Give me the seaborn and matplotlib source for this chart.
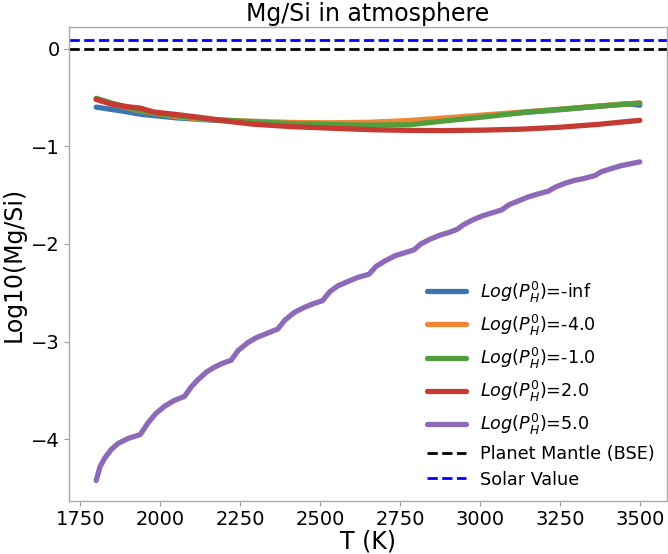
import matplotlib
matplotlib.use("Agg")
import matplotlib.pyplot as plt
import seaborn as sns
import pandas as pd

# ---- data ----
T_ninf = [1800, 1872, 1944, 2052, 2172, 2293, 2413, 2533, 2653, 2773, 2893, 3013, 3134, 3254, 3374, 3460, 3500]
y_ninf = [-0.60, -0.635, -0.675, -0.71, -0.735, -0.755, -0.77, -0.775, -0.77, -0.755, -0.725, -0.69, -0.655, -0.625, -0.59, -0.565, -0.58]

T_m4 = [1800, 1850, 1932, 2052, 2172, 2293, 2413, 2533, 2653, 2773, 2893, 3013, 3134, 3254, 3374, 3500]
y_m4 = [-0.52, -0.565, -0.635, -0.70, -0.73, -0.745, -0.757, -0.76, -0.755, -0.738, -0.71, -0.68, -0.65, -0.62, -0.588, -0.557]

T_m1 = [1800, 1850, 1932, 1990, 2052, 2172, 2293, 2413, 2533, 2653, 2780, 2893, 3013, 3134, 3254, 3374, 3500]
y_m1 = [-0.51, -0.56, -0.63, -0.665, -0.69, -0.728, -0.75, -0.77, -0.778, -0.784, -0.78, -0.74, -0.70, -0.655, -0.622, -0.59, -0.56]

T_p2 = [1800, 1848, 1896, 1938, 1980, 2052, 2112, 2172, 2233, 2293, 2413, 2533, 2653, 2773, 2893, 3013, 3134, 3254, 3374, 3500]
y_p2 = [-0.52, -0.57, -0.595, -0.61, -0.65, -0.676, -0.70, -0.726, -0.753, -0.775, -0.80, -0.815, -0.83, -0.838, -0.84, -0.835, -0.825, -0.805, -0.775, -0.735]

T_p5 = [1800, 1812, 1827, 1848, 1869, 1900, 1938,
        1960, 1985, 2014, 2045, 2076,
        2098, 2118, 2145, 2170, 2196, 2222,
        2244, 2274, 2300, 2330, 2368,
        2390, 2420, 2450, 2480, 2508,
        2530, 2555, 2590, 2620, 2653,
        2675, 2705, 2735, 2765, 2794,
        2815, 2845, 2875, 2905, 2929,
        2950, 2980, 3010, 3040, 3069,
        3090, 3120, 3150, 3180, 3214,
        3235, 3265, 3295, 3325, 3360,
        3380, 3410, 3440, 3470, 3500]
y_p5 = [-4.42, -4.28, -4.19, -4.10, -4.04, -3.99, -3.95,
        -3.84, -3.74, -3.66, -3.60, -3.56,
        -3.46, -3.39, -3.31, -3.26, -3.22, -3.19,
        -3.09, -3.01, -2.96, -2.92, -2.87,
        -2.78, -2.70, -2.65, -2.61, -2.58,
        -2.49, -2.43, -2.38, -2.34, -2.31,
        -2.23, -2.17, -2.12, -2.09, -2.06,
        -2.00, -1.95, -1.91, -1.88, -1.85,
        -1.80, -1.75, -1.71, -1.68, -1.65,
        -1.60, -1.56, -1.52, -1.49, -1.46,
        -1.42, -1.38, -1.35, -1.33, -1.30,
        -1.26, -1.23, -1.20, -1.18, -1.16]

labels = [r"$Log(P_H^0)$=-inf", r"$Log(P_H^0)$=-4.0", r"$Log(P_H^0)$=-1.0",
          r"$Log(P_H^0)$=2.0", r"$Log(P_H^0)$=5.0"]
colors = ["#3b75af", "#ef8636", "#519e3e", "#c53a32", "#8d69b8"]
bse_value = 0.0
solar_value = 0.09

sns.set_theme(style="white")
plt.rcParams["font.family"] = ["DejaVu Sans"]
plt.rcParams["text.color"] = "black"
plt.rcParams["axes.labelcolor"] = "black"

fig = plt.figure(figsize=(6.68, 5.54), dpi=100)
ax = fig.add_axes([69 / 668, 1 - 501 / 554, (667 - 69) / 668, (501 - 27) / 554])

series = [(T_ninf, y_ninf), (T_m4, y_m4), (T_m1, y_m1), (T_p2, y_p2), (T_p5, y_p5)]
for (T, y), lab, c in zip(series, labels, colors):
    df = pd.DataFrame({"T": T, "y": y})
    sns.lineplot(data=df, x="T", y="y", ax=ax, color=c, lw=3.8, label=lab)

ax.axhline(bse_value, color="black", ls="--", lw=2, label="Planet Mantle (BSE)")
ax.axhline(solar_value, color="blue", ls="--", lw=2, label="Solar Value")

ax.set_xlim(1715, 3585)
ax.set_ylim(-4.63, 0.22)
ax.set_xticks([1750, 2000, 2250, 2500, 2750, 3000, 3250, 3500])
ax.set_yticks([0, -1, -2, -3, -4])

ax.set_title("Mg/Si in atmosphere", fontsize=17, pad=4, color="black")
ax.set_xlabel("T (K)", fontsize=17, labelpad=0, color="black")
ax.set_ylabel("Log10(Mg/Si)", fontsize=17, labelpad=4, color="black")
ax.tick_params(axis="both", labelsize=14, length=3.5, width=0.8, color="#999999",
               labelcolor="black", bottom=True, left=True, pad=3)
for s in ax.spines.values():
    s.set_color("#aaaaaa")
    s.set_linewidth(1.0)

leg = ax.legend(loc="lower right", frameon=False, fontsize=12.7, handlelength=2.2,
                borderaxespad=0.3, labelspacing=0.45)
for t in leg.get_texts():
    t.set_color("black")

fig.savefig("out.png", dpi=100)
